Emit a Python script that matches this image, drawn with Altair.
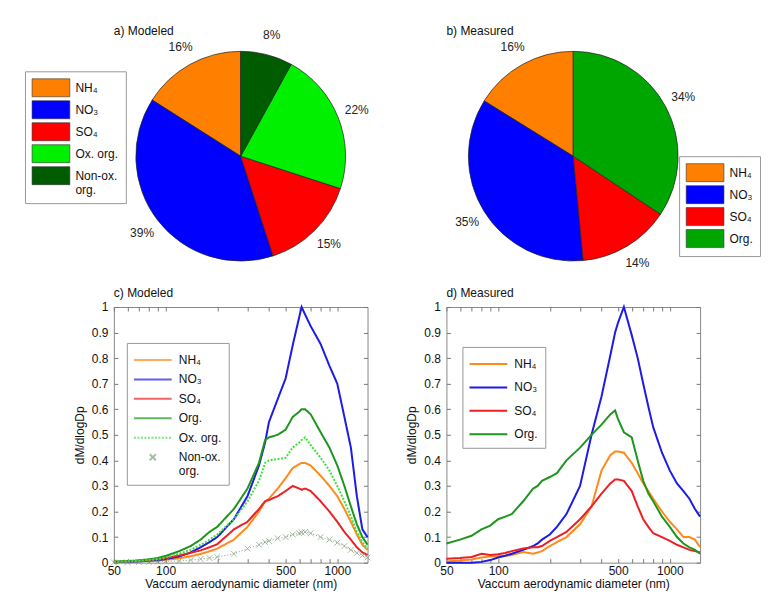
import altair as alt
import pandas as pd

# ---------------- data ----------------
PIE_A_CATS = ["NH₄", "NO₃", "SO₄", "Ox. org.", "Non-ox. org."]
PIE_A_VALS = [16, 39, 15, 22, 8]
PIE_A_COLORS = ["#ff8000", "#0000ff", "#ff0000", "#00f000", "#005c00"]

PIE_B_CATS = ["NH₄", "NO₃", "SO₄", "Org."]
PIE_B_VALS = [16, 35, 14, 34]
PIE_B_COLORS = ["#ff8000", "#0000ff", "#ff0000", "#00a600"]

LINE_C_SERIES = ["NH₄", "NO₃", "SO₄", "Org.", "Ox. org.", "Non-ox. org."]
LINE_C_COLORS = ["#ff8a1c", "#1c1ce6", "#ec2024", "#1e961e", "#3ee03e", "#7f9f7f"]
LINE_D_SERIES = ["NH₄", "NO₃", "SO₄", "Org."]
LINE_D_COLORS = ["#ff8a1c", "#1c1ce6", "#ec2024", "#1e961e"]

DIAM_C = [50, 60, 70, 80, 90, 100, 120, 140, 160, 180, 200, 250, 300, 350, 380, 400,
          450, 500, 550, 600, 620, 650, 700, 800, 900, 1000, 1100, 1200, 1300, 1400, 1500]
NH4_C = [0.003, 0.004, 0.005, 0.007, 0.009, 0.011, 0.017, 0.025, 0.034, 0.044, 0.055, 0.09,
         0.14, 0.20, 0.24, 0.25, 0.29, 0.33, 0.37, 0.385, 0.39, 0.39, 0.38, 0.34, 0.30, 0.26,
         0.21, 0.16, 0.11, 0.07, 0.05]
NO3_C = [0.002, 0.003, 0.005, 0.007, 0.01, 0.014, 0.024, 0.04, 0.06, 0.08, 0.10, 0.17,
         0.26, 0.38, 0.47, 0.55, 0.64, 0.72, 0.85, 0.96, 1.0, 0.97, 0.925, 0.855, 0.77, 0.70,
         0.57, 0.45, 0.26, 0.13, 0.10]
SO4_C = [0.003, 0.005, 0.007, 0.01, 0.014, 0.018, 0.028, 0.038, 0.048, 0.06, 0.072, 0.13,
         0.16, 0.21, 0.24, 0.245, 0.26, 0.28, 0.30, 0.29, 0.285, 0.29, 0.28, 0.24, 0.20, 0.16,
         0.12, 0.09, 0.06, 0.04, 0.03]
ORG_C = [0.004, 0.006, 0.009, 0.013, 0.018, 0.026, 0.045, 0.065, 0.09, 0.12, 0.14, 0.21,
         0.29, 0.39, 0.48, 0.49, 0.50, 0.52, 0.57, 0.59, 0.60, 0.60, 0.58, 0.51, 0.45, 0.38,
         0.30, 0.22, 0.15, 0.10, 0.07]
OXORG_C = [0.003, 0.005, 0.007, 0.01, 0.014, 0.02, 0.035, 0.05, 0.07, 0.09, 0.11, 0.17,
           0.24, 0.32, 0.39, 0.40, 0.405, 0.41, 0.45, 0.47, 0.48, 0.49, 0.46, 0.41, 0.36, 0.30,
           0.24, 0.18, 0.12, 0.08, 0.055]
NONOX_C = [0.001, 0.001, 0.002, 0.003, 0.004, 0.005, 0.007, 0.01, 0.014, 0.018, 0.022, 0.035,
           0.055, 0.07, 0.08, 0.085, 0.095, 0.10, 0.11, 0.115, 0.118, 0.12, 0.115, 0.10, 0.09,
           0.078, 0.065, 0.05, 0.038, 0.028, 0.02]

DIAM_D = [50, 60, 70, 80, 90, 100, 110, 120, 140, 160, 170, 180, 200, 220, 250, 300, 350,
          400, 450, 480, 500, 540, 600, 650, 700, 750, 800, 900, 1000, 1100, 1200, 1300, 1400, 1500]
NH4_D = [0.005, 0.008, 0.012, 0.02, 0.024, 0.025, 0.027, 0.03, 0.042, 0.035, 0.04, 0.045,
         0.065, 0.08, 0.10, 0.15, 0.22, 0.36, 0.42, 0.435, 0.435, 0.43, 0.39, 0.35, 0.31, 0.28,
         0.25, 0.20, 0.16, 0.13, 0.10, 0.10, 0.09, 0.06]
NO3_D = [0.0, 0.0, 0.0, 0.003, 0.01, 0.02, 0.027, 0.035, 0.05, 0.065, 0.075, 0.09, 0.11,
         0.14, 0.19, 0.30, 0.50, 0.65, 0.81, 0.90, 0.94, 1.0, 0.89, 0.80, 0.70, 0.61, 0.53,
         0.43, 0.36, 0.31, 0.28, 0.25, 0.21, 0.18]
SO4_D = [0.015, 0.018, 0.022, 0.035, 0.03, 0.033, 0.038, 0.045, 0.055, 0.06, 0.06, 0.065,
         0.085, 0.10, 0.12, 0.17, 0.22, 0.27, 0.31, 0.325, 0.325, 0.32, 0.28, 0.22, 0.17, 0.14,
         0.115, 0.10, 0.085, 0.07, 0.06, 0.05, 0.045, 0.04]
ORG_D = [0.075, 0.09, 0.105, 0.13, 0.145, 0.17, 0.18, 0.19, 0.24, 0.29, 0.30, 0.32, 0.335,
         0.35, 0.40, 0.45, 0.50, 0.54, 0.58, 0.595, 0.56, 0.51, 0.49, 0.40, 0.32, 0.27, 0.24,
         0.18, 0.14, 0.10, 0.075, 0.06, 0.05, 0.035]

X_TICKS = [50, 60, 70, 80, 90, 100, 200, 300, 400, 500, 600, 700, 800, 900, 1000]
Y_TICKS = [0, 0.1, 0.2, 0.3, 0.4, 0.5, 0.6, 0.7, 0.8, 0.9, 1]

FONT = "Liberation Sans"
FS = 12
SWATCH = "M-2.1,-1L2.1,-1L2.1,1L-2.1,1Z"
LINE_SYM = "M-2.1,0L2.1,0"
X_SYM = "M-0.33,-0.33L0.33,0.33M-0.33,0.33L0.33,-0.33"
TWO_LINE = "datum.label == 'Non-ox. org.' ? ['Non-ox.', 'org.'] : datum.label"

PIE_W, PIE_H = 254, 228
LINE_W, LINE_H = 254, 256


def title(text, off):
    return alt.TitleParams(text, anchor="start", frame="group", offset=off,
                           fontSize=FS, fontWeight="normal", font=FONT, color="#111")


def pie(cats, vals, colors, ttl, toff, lx, ly):
    df = pd.DataFrame({"cat": cats, "val": vals, "idx": list(range(len(cats)))})
    legend = alt.Legend(title=None, orient="none", legendX=lx, legendY=ly, direction="vertical",
                        symbolType=SWATCH, symbolSize=324, symbolStrokeColor="#333",
                        symbolStrokeWidth=0.6, symbolOffset=9.5, labelOffset=15,
                        padding=7, rowPadding=1, strokeColor="#999", fillColor="#ffffff",
                        labelFontSize=FS, labelFont=FONT, labelColor="#111",
                        labelExpr=TWO_LINE)
    base = alt.Chart(df).encode(
        theta=alt.Theta("val:Q", stack=True),
        order=alt.Order("idx:Q", sort="descending"),
    )
    arcs = base.mark_arc(outerRadius=105, stroke="#222", strokeWidth=0.7).encode(
        color=alt.Color("cat:N", scale=alt.Scale(domain=cats, range=colors), legend=legend)
    )
    text = base.transform_calculate(lab="datum.val + '%'").mark_text(
        radius=125, fontSize=FS, font=FONT, color="#222"
    ).encode(text="lab:N")
    return alt.layer(arcs, text).properties(
        width=PIE_W, height=PIE_H, title=title(ttl, toff),
        view=alt.ViewBackground(stroke="transparent"))


xscale = alt.Scale(type="log", domain=[50, 1500], nice=False)
yscale = alt.Scale(domain=[0, 1], nice=False)
LABEL_X = ("(datum.value == 50 || datum.value == 100 || datum.value == 500 || "
           "datum.value == 1000) ? format(datum.value, 'd') : ''")
x_axis = alt.Axis(title="Vaccum aerodynamic diameter (nm)", values=X_TICKS, labelExpr=LABEL_X,
                  domain=False, tickSize=4, offset=-4, labelPadding=3, titlePadding=2,
                  labelOverlap=False, labelFlush=False, grid=False)
y_axis = alt.Axis(title="dM/dlogDp", values=Y_TICKS, format="~g", domain=False, tickSize=4,
                  offset=-4, labelPadding=6, titlePadding=5, grid=False)
x_top = alt.Axis(orient="top", values=X_TICKS, labels=False, domain=False, tickSize=4,
                 offset=-4, title=None, grid=False)
y_right = alt.Axis(orient="right", values=Y_TICKS, labels=False, domain=False, tickSize=4,
                   offset=-4, title=None, grid=False)


def long_df(diam, series_names, series_vals):
    rows = []
    for name, vals in zip(series_names, series_vals):
        for d, v in zip(diam, vals):
            rows.append({"d": d, "v": v, "s": name})
    return pd.DataFrame(rows)


def frame_layer(df):
    return alt.Chart(df).mark_point(opacity=0).encode(
        x=alt.X("d:Q", scale=xscale, axis=x_top),
        y=alt.Y("v:Q", scale=yscale, axis=y_right),
    )


# panel c
df_c_lines = long_df(DIAM_C, LINE_C_SERIES[:5], [NH4_C, NO3_C, SO4_C, ORG_C, OXORG_C])
df_c_nonox = long_df(DIAM_C, LINE_C_SERIES[5:], [NONOX_C])

leg_c = alt.Legend(title=None, orient="none", legendX=13, legendY=36, direction="vertical",
                   symbolSize=324, symbolStrokeWidth=2, symbolOffset=9, labelOffset=16,
                   padding=7, rowPadding=3.5, strokeColor="#999", fillColor="#ffffff",
                   labelFontSize=FS, labelFont=FONT, labelColor="#111", labelExpr=TWO_LINE)
col_c = alt.Color("s:N", scale=alt.Scale(domain=LINE_C_SERIES, range=LINE_C_COLORS), legend=leg_c)
dash_c = alt.StrokeDash("s:N", scale=alt.Scale(domain=LINE_C_SERIES,
                        range=[[1, 0], [1, 0], [1, 0], [1, 0], [2, 1.5], [1, 0]]), legend=leg_c)
shape_c = alt.Shape("s:N", scale=alt.Scale(domain=LINE_C_SERIES,
                    range=[LINE_SYM, LINE_SYM, LINE_SYM, LINE_SYM, LINE_SYM, X_SYM]), legend=leg_c)

c_lines = alt.Chart(df_c_lines).mark_line(strokeWidth=2).encode(
    x=alt.X("d:Q", scale=xscale, axis=x_axis),
    y=alt.Y("v:Q", scale=yscale, axis=y_axis),
    color=col_c, strokeDash=dash_c,
)
c_nonox_line = alt.Chart(df_c_nonox).mark_line(strokeWidth=1, strokeDash=[1, 2]).encode(
    x=alt.X("d:Q", scale=xscale, axis=x_axis),
    y=alt.Y("v:Q", scale=yscale, axis=y_axis),
    color=col_c,
)
c_nonox_pts = alt.Chart(df_c_nonox).mark_point(filled=False, size=324, strokeWidth=1).encode(
    x=alt.X("d:Q", scale=xscale, axis=x_axis),
    y=alt.Y("v:Q", scale=yscale, axis=y_axis),
    color=col_c, shape=shape_c,
)
panel_c = alt.layer(
    alt.layer(c_lines, c_nonox_line, c_nonox_pts),
    frame_layer(df_c_lines),
).resolve_axis(x="independent", y="independent").properties(
    width=LINE_W, height=LINE_H, title=title("c) Modeled", 1))

# panel d
df_d = long_df(DIAM_D, LINE_D_SERIES, [NH4_D, NO3_D, SO4_D, ORG_D])
leg_d = alt.Legend(title=None, orient="none", legendX=16, legendY=40, direction="vertical",
                   symbolType=LINE_SYM, symbolSize=324, symbolStrokeWidth=2, symbolOffset=9,
                   labelOffset=16, padding=7, rowPadding=7.5, strokeColor="#999",
                   fillColor="#ffffff", labelFontSize=FS, labelFont=FONT, labelColor="#111")
d_lines = alt.Chart(df_d).mark_line(strokeWidth=2).encode(
    x=alt.X("d:Q", scale=xscale, axis=x_axis),
    y=alt.Y("v:Q", scale=yscale, axis=y_axis),
    color=alt.Color("s:N", scale=alt.Scale(domain=LINE_D_SERIES, range=LINE_D_COLORS), legend=leg_d),
)
panel_d = alt.layer(d_lines, frame_layer(df_d)).resolve_axis(
    x="independent", y="independent").properties(
    width=LINE_W, height=LINE_H, title=title("d) Measured", 1))

panel_a = pie(PIE_A_CATS, PIE_A_VALS, PIE_A_COLORS, "a) Modeled", -9, -89, 29)
panel_b = pie(PIE_B_CATS, PIE_B_VALS, PIE_B_COLORS, "b) Measured", 3, 233, 114)

chart = alt.concat(
    panel_a, panel_b, panel_c, panel_d, columns=2, bounds="flush",
    spacing={"row": 37, "column": 79},
).resolve_scale(
    color="independent", strokeDash="independent", shape="independent"
).properties(
    padding={"left": 16, "top": 16, "right": 0, "bottom": 0},
    background="#ffffff",
).configure_view(
    stroke="#888888", strokeWidth=1
).configure_axis(
    labelFont=FONT, titleFont=FONT, labelFontSize=FS, titleFontSize=FS,
    labelColor="#111", titleColor="#111", tickColor="#777", titleFontWeight="normal",
).configure_text(font=FONT)

chart.save("out.html", embed_options={"renderer": "svg", "actions": False})
